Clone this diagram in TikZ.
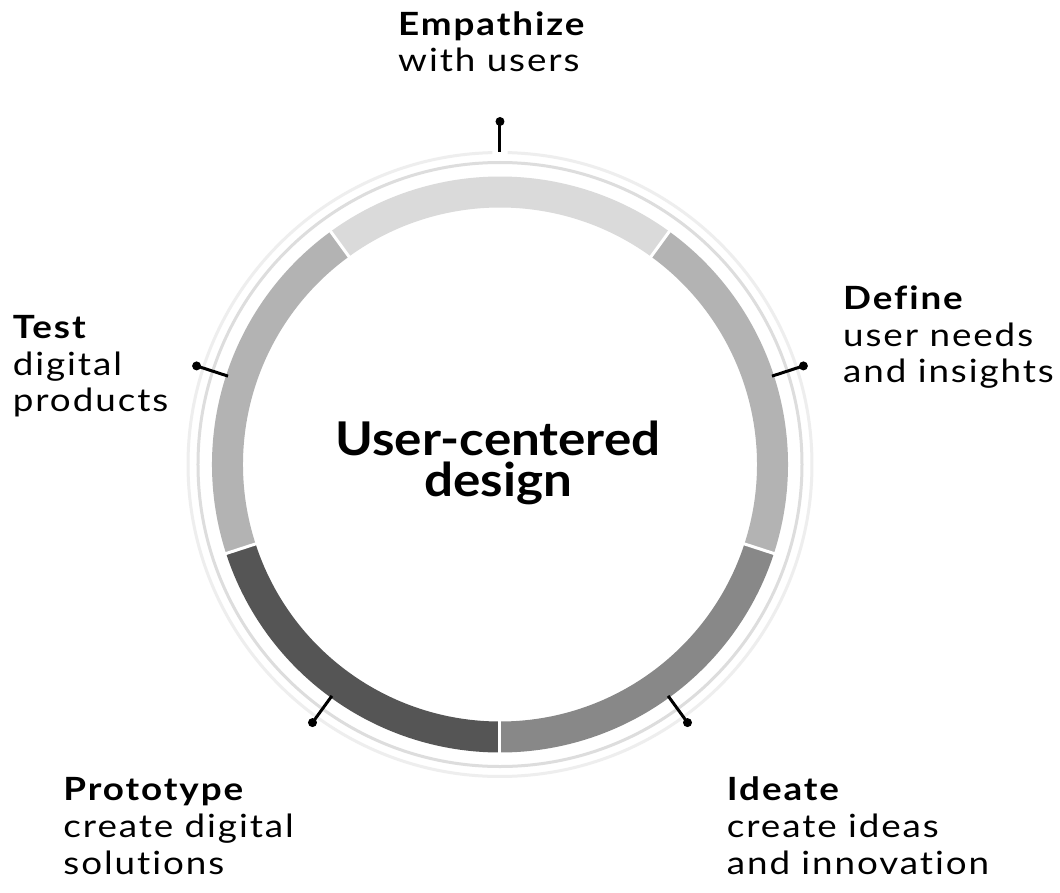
\documentclass[tikz,border=0pt]{standalone}
\usepackage{fontspec}
\setmainfont{Lato}
\newfontfamily\labelfont[FakeStretch=1.15, LetterSpace=6, Ligatures=NoCommon]{Lato}
\newfontfamily\centerfont[FakeStretch=1.1, Ligatures=NoCommon]{Lato}
\definecolor{segA}{HTML}{DADADA}
\definecolor{segB}{HTML}{B3B3B3}
\definecolor{segC}{HTML}{888888}
\definecolor{segD}{HTML}{555555}
\definecolor{ringA}{HTML}{DDDDDD}
\definecolor{ringB}{HTML}{EEEEEE}
\tikzset{
  title/.style={anchor=base west, inner sep=0pt, font=\labelfont\fontsize{32}{38}\selectfont\bfseries},
  subtitle/.style={anchor=base west, inner sep=0pt, font=\labelfont\fontsize{32}{38}\selectfont},
  centertext/.style={anchor=base, inner sep=0pt, align=center, font=\centerfont\fontsize{46.5}{41.7}\selectfont\bfseries},
  tickline/.style={draw=black, line width=3pt},
  tickdot/.style={circle, fill=black, inner sep=0pt, minimum size=9pt},
  gapline/.style={draw=white, line width=3pt}
}
\begin{document}
\begin{tikzpicture}[x=1pt,y=1pt]
\useasboundingbox (-500,-427.5) rectangle (560,464.5);
\fill[white] (-500,-427.5) rectangle (560,464.5);
% thin rings
\draw[ringA, line width=3pt] (0,0) circle[radius=302];
\draw[ringB, line width=3pt] (91.4:312) arc[start angle=91.4, end angle=448.6, radius=312];
% thick segments
\foreach \c/\col in {90/segA,18/segB,-54/segC,-126/segD,162/segB} {
  \pgfmathsetmacro{\aone}{\c-36}
  \pgfmathsetmacro{\atwo}{\c+36}
  \fill[\col] (\aone:288) arc[start angle=\aone, end angle=\atwo, radius=288]
     -- (\atwo:257) arc[start angle=\atwo, end angle=\aone, radius=257] -- cycle;
}
\foreach \a in {54,126,198,270,342} \draw[gapline] (\a:250) -- (\a:295);
% ticks
\coordinate (tE) at (90:312.5);
\node[tickdot] (dE) at (90:343) {};
\draw[tickline] (tE) -- (dE.center);
\foreach \n/\a in {D/18,I/-54,P/-126,T/162} {
  \coordinate (t\n) at (\a:286);
  \node[tickdot] (d\n) at (\a:319) {};
  \draw[tickline] (t\n) -- (d\n.center);
}
% labels
\node[title] (empT) at (-102,428.5) {Empathize};
\node[subtitle] (empS) at (-102,392.5) {with users};
\node[title] (defT) at (343,155.5) {Define};
\node[subtitle] (defS1) at (343,118.5) {user needs};
\node[subtitle] (defS2) at (343,82.5) {and insights};
\node[title] (tstT) at (-487.3,126.5) {Test};
\node[subtitle] (tstS1) at (-487.3,89.5) {digital};
\node[subtitle] (tstS2) at (-487.3,53.5) {products};
\node[title] (proT) at (-436.7,-335.5) {Prototype};
\node[subtitle] (proS1) at (-436.7,-372.5) {create digital};
\node[subtitle] (proS2) at (-436.7,-409.5) {solutions};
\node[title] (ideT) at (226.7,-335.5) {Ideate};
\node[subtitle] (ideS1) at (226.7,-372.5) {create ideas};
\node[subtitle] (ideS2) at (226.7,-409.5) {and innovation};
\node[centertext] (cen) at (-2,-32.2) {User-centered\\design};
\end{tikzpicture}
\end{document}
